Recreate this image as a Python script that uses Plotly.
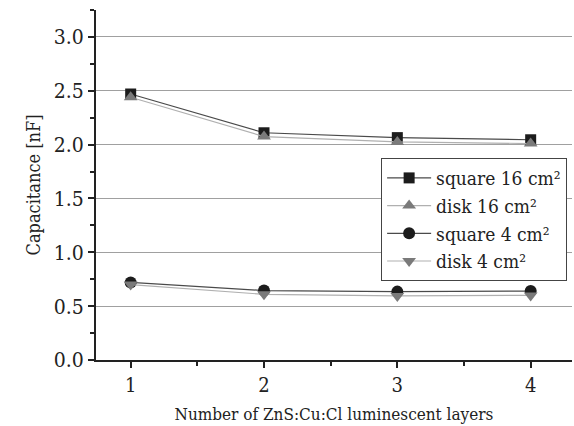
import plotly.graph_objects as go

layers = [1, 2, 3, 4]
square16 = [2.47, 2.11, 2.065, 2.045]
disk16 = [2.44, 2.075, 2.025, 2.01]
square4 = [0.72, 0.645, 0.635, 0.64]
disk4 = [0.70, 0.61, 0.595, 0.60]

names = ["square 16 cm²", "disk 16 cm²", "square 4 cm²", "disk 4 cm²"]
series = [square16, disk16, square4, disk4]
symbols = ["square", "triangle-up", "circle", "triangle-down"]
mcolors = ["#1c1c1c", "#7a7a7a", "#1c1c1c", "#7a7a7a"]
lcolors = ["#4a4a4a", "#b0b0b0", "#4a4a4a", "#b0b0b0"]
sizes = [11, 12, 12, 12]

font = "DejaVu Serif Condensed, DejaVu Serif"
fig = go.Figure()
for n, ys, s, mc, lc, sz in zip(names, series, symbols, mcolors, lcolors, sizes):
    fig.add_trace(go.Scatter(
        x=layers, y=ys, name=n, mode="lines+markers",
        line=dict(color=lc, width=1.2),
        marker=dict(symbol=s, size=sz, color=mc, line=dict(width=0)),
    ))

fig.update_layout(
    width=574, height=426,
    margin=dict(l=96, r=2, t=10, b=66),
    paper_bgcolor="white", plot_bgcolor="white",
    font=dict(family=font, size=17, color="#222"),
    showlegend=True,
    legend=dict(
        x=0.599, y=0.577, xanchor="left", yanchor="top",
        bgcolor="white", bordercolor="#444", borderwidth=1,
        font=dict(family=font, size=19, color="#222"),
        itemsizing="trace", tracegroupgap=0, itemwidth=44,
    ),
    xaxis=dict(
        range=[0.74, 4.31], tickvals=layers, ticktext=[str(v) for v in layers],
        showgrid=False, zeroline=False,
        showline=True, linecolor="#222", linewidth=2,
        ticks="outside", ticklen=6, tickwidth=2, tickcolor="#222",
        minor=dict(dtick=0.5, tick0=0.5, ticks="outside", ticklen=4, tickwidth=2, tickcolor="#222"),
        title=dict(text="Number of ZnS:Cu:Cl luminescent layers", font=dict(size=17), standoff=12),
        tickfont=dict(size=20),
    ),
    yaxis=dict(
        range=[0, 3.25], tickvals=[0, 0.5, 1.0, 1.5, 2.0, 2.5, 3.0],
        tickformat=".1f",
        showgrid=True, gridcolor="#a0a0a0", gridwidth=1, zeroline=False,
        showline=True, linecolor="#222", linewidth=2,
        ticks="outside", ticklen=6, tickwidth=2, tickcolor="#222",
        minor=dict(dtick=0.25, tick0=0, ticks="outside", ticklen=4, tickwidth=2, tickcolor="#222", showgrid=False),
        title=dict(text="Capacitance [nF]", font=dict(size=18), standoff=8),
        tickfont=dict(size=21),
    ),
)

fig.write_html("out.html")
